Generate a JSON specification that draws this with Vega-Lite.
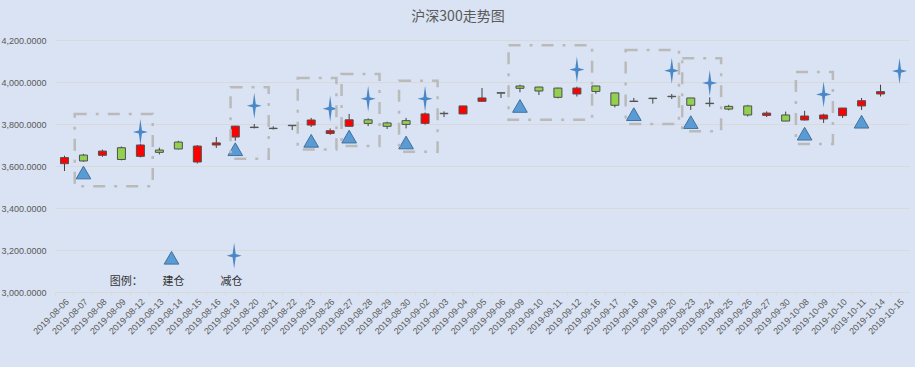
{
  "$schema": "https://vega.github.io/schema/vega-lite/v6.json",
  "autosize": {"type": "none"},
  "width": 854,
  "height": 252,
  "padding": {"left": 55, "top": 40, "right": 6, "bottom": 75},
  "background": "#DAE3F3",
  "config": {"view": {"stroke": null}, "font": "Noto Sans CJK SC"},
  "title": {"text": "沪深300走势图", "fontSize": 14, "fontWeight": "normal", "color": "#595959", "font": "Noto Sans CJK SC", "offset": 12, "dx": -24},
  "datasets": {
    "candles": [
      {"date": "2019-08-06", "open": 3611, "close": 3640, "high": 3649, "low": 3576, "buy": null, "sell": null},
      {"date": "2019-08-07", "open": 3652, "close": 3624, "high": 3658, "low": 3620, "buy": 3569, "sell": null},
      {"date": "2019-08-08", "open": 3651, "close": 3671, "high": 3678, "low": 3644, "buy": null, "sell": null},
      {"date": "2019-08-09", "open": 3687, "close": 3631, "high": 3693, "low": 3627, "buy": null, "sell": null},
      {"date": "2019-08-12", "open": 3646, "close": 3700, "high": 3705, "low": 3641, "buy": null, "sell": 3762},
      {"date": "2019-08-13", "open": 3676, "close": 3665, "high": 3687, "low": 3655, "buy": null, "sell": null},
      {"date": "2019-08-14", "open": 3714, "close": 3681, "high": 3720, "low": 3679, "buy": null, "sell": null},
      {"date": "2019-08-15", "open": 3619, "close": 3695, "high": 3700, "low": 3612, "buy": null, "sell": null},
      {"date": "2019-08-16", "open": 3700, "close": 3710, "high": 3738, "low": 3686, "buy": null, "sell": null},
      {"date": "2019-08-19", "open": 3738, "close": 3790, "high": 3791, "low": 3720, "buy": 3680, "sell": null},
      {"date": "2019-08-20", "open": 3785, "close": 3783, "high": 3800, "low": 3779, "buy": null, "sell": 3887},
      {"date": "2019-08-21", "open": 3780, "close": 3778, "high": 3789, "low": 3774, "buy": null, "sell": null},
      {"date": "2019-08-22", "open": 3794, "close": 3792, "high": 3795, "low": 3771, "buy": null, "sell": null},
      {"date": "2019-08-23", "open": 3795, "close": 3819, "high": 3829, "low": 3786, "buy": 3720, "sell": null},
      {"date": "2019-08-26", "open": 3755, "close": 3768, "high": 3779, "low": 3748, "buy": null, "sell": 3873},
      {"date": "2019-08-27", "open": 3789, "close": 3820, "high": 3848, "low": 3788, "buy": 3740, "sell": null},
      {"date": "2019-08-28", "open": 3820, "close": 3803, "high": 3827, "low": 3790, "buy": null, "sell": 3920},
      {"date": "2019-08-29", "open": 3805, "close": 3789, "high": 3811, "low": 3776, "buy": null, "sell": null},
      {"date": "2019-08-30", "open": 3816, "close": 3798, "high": 3829, "low": 3779, "buy": 3712, "sell": null},
      {"date": "2019-09-02", "open": 3803, "close": 3848, "high": 3855, "low": 3797, "buy": null, "sell": 3920},
      {"date": "2019-09-03", "open": 3851, "close": 3849, "high": 3860, "low": 3833, "buy": null, "sell": null},
      {"date": "2019-09-04", "open": 3848, "close": 3886, "high": 3886, "low": 3847, "buy": null, "sell": null},
      {"date": "2019-09-05", "open": 3908, "close": 3924, "high": 3971, "low": 3907, "buy": null, "sell": null},
      {"date": "2019-09-06", "open": 3949, "close": 3947, "high": 3949, "low": 3924, "buy": null, "sell": null},
      {"date": "2019-09-09", "open": 3981, "close": 3970, "high": 3987, "low": 3951, "buy": 3886, "sell": null},
      {"date": "2019-09-10", "open": 3976, "close": 3957, "high": 3977, "low": 3938, "buy": null, "sell": null},
      {"date": "2019-09-11", "open": 3971, "close": 3927, "high": 3973, "low": 3922, "buy": null, "sell": null},
      {"date": "2019-09-12", "open": 3943, "close": 3971, "high": 3978, "low": 3931, "buy": null, "sell": 4059},
      {"date": "2019-09-16", "open": 3981, "close": 3955, "high": 3982, "low": 3944, "buy": null, "sell": null},
      {"date": "2019-09-17", "open": 3948, "close": 3889, "high": 3948, "low": 3879, "buy": null, "sell": null},
      {"date": "2019-09-18", "open": 3909, "close": 3907, "high": 3924, "low": 3905, "buy": 3847, "sell": null},
      {"date": "2019-09-19", "open": 3923, "close": 3921, "high": 3923, "low": 3897, "buy": null, "sell": null},
      {"date": "2019-09-20", "open": 3932, "close": 3930, "high": 3943, "low": 3919, "buy": null, "sell": 4054},
      {"date": "2019-09-23", "open": 3924, "close": 3889, "high": 3924, "low": 3867, "buy": 3809, "sell": null},
      {"date": "2019-09-24", "open": 3899, "close": 3897, "high": 3927, "low": 3882, "buy": null, "sell": 3995},
      {"date": "2019-09-25", "open": 3884, "close": 3871, "high": 3891, "low": 3865, "buy": null, "sell": null},
      {"date": "2019-09-26", "open": 3886, "close": 3843, "high": 3891, "low": 3836, "buy": null, "sell": null},
      {"date": "2019-09-27", "open": 3841, "close": 3852, "high": 3860, "low": 3833, "buy": null, "sell": null},
      {"date": "2019-09-30", "open": 3843, "close": 3814, "high": 3859, "low": 3814, "buy": null, "sell": null},
      {"date": "2019-10-08", "open": 3819, "close": 3838, "high": 3863, "low": 3817, "buy": 3754, "sell": null},
      {"date": "2019-10-09", "open": 3824, "close": 3843, "high": 3849, "low": 3805, "buy": null, "sell": 3941},
      {"date": "2019-10-10", "open": 3840, "close": 3876, "high": 3876, "low": 3829, "buy": null, "sell": null},
      {"date": "2019-10-11", "open": 3886, "close": 3911, "high": 3924, "low": 3867, "buy": 3811, "sell": null},
      {"date": "2019-10-14", "open": 3943, "close": 3954, "high": 3987, "low": 3931, "buy": null, "sell": null},
      {"date": "2019-10-15", "open": null, "close": null, "high": null, "low": null, "buy": null, "sell": 4052}
    ],
    "boxes": [
      {"x0": 1.04, "x1": 5.15, "lo": 3503, "hi": 3848},
      {"x0": 9.25, "x1": 11.26, "lo": 3635, "hi": 3975},
      {"x0": 12.79, "x1": 14.83, "lo": 3678, "hi": 4019},
      {"x0": 15.1, "x1": 17.1, "lo": 3695, "hi": 4038},
      {"x0": 18.13, "x1": 20.16, "lo": 3668, "hi": 4006},
      {"x0": 23.9, "x1": 28.3, "lo": 3820, "hi": 4175},
      {"x0": 30.07, "x1": 32.88, "lo": 3800, "hi": 4152},
      {"x0": 33.05, "x1": 35.1, "lo": 3765, "hi": 4113},
      {"x0": 39.04, "x1": 40.99, "lo": 3705, "hi": 4048}
    ],
    "legendTri": [{"xi": 6.14, "v": 3163}],
    "legendStar": [{"xi": 9.44, "v": 3173}],
    "legendText": [
      {"xi": 3.75, "v": 3049, "label": "图例："},
      {"xi": 6.25, "v": 3049, "label": "建仓"},
      {"xi": 9.3, "v": 3049, "label": "减仓"}
    ]
  },
  "layer": [
    {
      "data": {"name": "candles"},
      "encoding": {
        "x": {
          "field": "date", "type": "ordinal",
          "scale": {"paddingInner": 0, "paddingOuter": 0},
          "axis": {
            "title": null, "labelAngle": -45, "labelFontSize": 9, "labelFont": "Liberation Sans",
            "labelColor": "#595959", "labelOverlap": false, "bandPosition": 0,
            "tickSize": 3, "tickColor": "#D9D9D9", "domainColor": "#D9D9D9", "labelPadding": 2, "grid": false
          }
        }
      },
      "layer": [
        {
          "mark": {"type": "rule", "color": "#404040", "strokeWidth": 1},
          "encoding": {
            "y": {"field": "low", "type": "quantitative", "scale": {"domain": [3000, 4200], "nice": false, "zero": false},
              "axis": {"title": null, "values": [3000, 3200, 3400, 3600, 3800, 4000, 4200], "format": ",.4f",
                "domain": false, "ticks": false, "labelPadding": 9, "labelColor": "#595959", "labelFontSize": 9,
                "labelFont": "Liberation Sans", "gridColor": "#D9D9D9", "gridWidth": 1}},
            "y2": {"field": "high"}
          }
        },
        {
          "mark": {"type": "bar", "size": 8, "stroke": "#505050", "strokeWidth": 1},
          "encoding": {
            "y": {"field": "open", "type": "quantitative"},
            "y2": {"field": "close"},
            "fill": {"condition": {"test": "datum.close > datum.open", "value": "#FF0000"}, "value": "#92D050"}
          }
        },
        {
          "mark": {"type": "point", "shape": "triangle-up", "size": 215, "filled": true, "fill": "#5B9BD5", "stroke": "#41719C", "strokeWidth": 1, "opacity": 1},
          "encoding": {"y": {"field": "buy", "type": "quantitative"}}
        },
        {
          "mark": {"type": "point", "shape": "M0,-1L0.12,-0.12L0.58,0L0.12,0.12L0,1L-0.12,0.12L-0.58,0L-0.12,-0.12Z", "size": 676, "filled": true, "fill": "#4A87C6", "strokeWidth": 0, "opacity": 1},
          "encoding": {"y": {"field": "sell", "type": "quantitative"}}
        }
      ]
    },
    {
      "layer": [
        {
          "data": {"name": "boxes"},
          "mark": {"type": "rect", "fill": null, "fillOpacity": 0, "stroke": "#BABABA", "strokeWidth": 2.5, "strokeDash": [12, 9, 3, 9]},
          "encoding": {
            "x": {"field": "x0", "type": "quantitative", "scale": {"domain": [0, 45], "nice": false, "zero": false}, "axis": null},
            "x2": {"field": "x1"},
            "y": {"field": "lo", "type": "quantitative"},
            "y2": {"field": "hi"}
          }
        },
        {
          "data": {"name": "legendTri"},
          "mark": {"type": "point", "shape": "triangle-up", "size": 215, "filled": true, "fill": "#5B9BD5", "stroke": "#41719C", "strokeWidth": 1, "opacity": 1},
          "encoding": {
            "x": {"field": "xi", "type": "quantitative"},
            "y": {"field": "v", "type": "quantitative"}
          }
        },
        {
          "data": {"name": "legendStar"},
          "mark": {"type": "point", "shape": "M0,-1L0.12,-0.12L0.58,0L0.12,0.12L0,1L-0.12,0.12L-0.58,0L-0.12,-0.12Z", "size": 676, "filled": true, "fill": "#4A87C6", "strokeWidth": 0, "opacity": 1},
          "encoding": {
            "x": {"field": "xi", "type": "quantitative"},
            "y": {"field": "v", "type": "quantitative"}
          }
        },
        {
          "data": {"name": "legendText"},
          "mark": {"type": "text", "fontSize": 11, "color": "#333333", "font": "Noto Sans CJK SC", "baseline": "middle", "align": "center"},
          "encoding": {
            "x": {"field": "xi", "type": "quantitative"},
            "y": {"field": "v", "type": "quantitative"},
            "text": {"field": "label"}
          }
        }
      ]
    }
  ],
  "resolve": {"scale": {"x": "independent"}, "axis": {"x": "independent"}}
}
